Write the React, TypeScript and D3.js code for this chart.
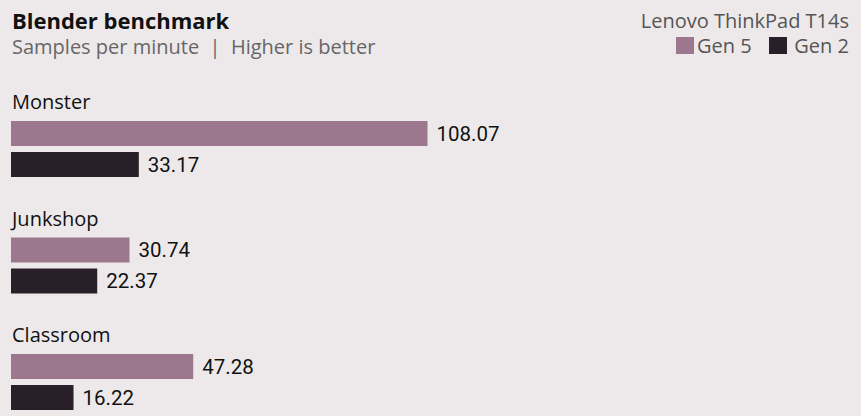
import React from "react";
import * as d3 from "d3";

const categories = ["Monster", "Junkshop", "Classroom"];
const seriesNames = ["Gen 5", "Gen 2"];
const gen5Values = [108.07, 30.74, 47.28];
const gen2Values = [33.17, 22.37, 16.22];
const seriesColors = ["#9c778e", "#281f29"];

const W = 861;
const H = 416;
const FONT = "'Open Sans', 'Noto Sans', sans-serif";
const NUMFONT = "Roboto, 'Open Sans', sans-serif";

export default function App() {
  const x = d3.scaleLinear().domain([0, 108.07]).range([11, 427.5]);
  const y0 = d3.scaleBand<string>().domain(categories).range([121, 121 + 3 * 116.5]).paddingInner(0).paddingOuter(0);
  const y1 = d3.scaleBand<string>().domain(seriesNames).range([0, 56]).paddingInner(0.194).paddingOuter(0);
  const values = [gen5Values, gen2Values];

  return (
    <svg width={W} height={H} style={{ position: "absolute", left: 0, top: 0, display: "block" }}>
      <rect x={0} y={0} width={W} height={H} fill="#ede9ea" />
      <text x={12} y={29} fontFamily={FONT} fontWeight={700} fontSize={22} fill="#111">Blender benchmark</text>
      <text x={12} y={54} fontFamily={FONT} fontSize={20} fill="#666" style={{ whiteSpace: "pre" }}>{"Samples per minute  |  Higher is better"}</text>
      <text x={849} y={28} textAnchor="end" fontFamily={FONT} fontSize={20} fill="#555">Lenovo ThinkPad T14s</text>
      {/* legend */}
      <g>
        <rect x={676} y={37} width={18} height={17} fill={seriesColors[0]} />
        <text x={697} y={53} fontFamily={FONT} fontSize={20} fill="#555">{seriesNames[0]}</text>
        <rect x={769} y={37} width={18} height={17} fill={seriesColors[1]} />
        <text x={849} y={53} textAnchor="end" fontFamily={FONT} fontSize={20} fill="#555">{seriesNames[1]}</text>
      </g>
      {categories.map((c, i) => {
        const gy = y0(c)!;
        return (
          <g key={c}>
            <text x={12} y={gy - 12} fontFamily={FONT} fontSize={20} fill="#111">{c}</text>
            {seriesNames.map((s, j) => {
              const v = values[j][i];
              const by = gy + y1(s)!;
              const bw = y1.bandwidth();
              return (
                <g key={s}>
                  <rect x={x(0)} y={by} width={x(v) - x(0)} height={bw} fill={seriesColors[j]} />
                  <text x={x(v) + 9} y={by + bw / 2} dy="0.36em" fontFamily={NUMFONT} fontSize={20.5} fill="#111">{v.toFixed(2)}</text>
                </g>
              );
            })}
          </g>
        );
      })}
    </svg>
  );
}
